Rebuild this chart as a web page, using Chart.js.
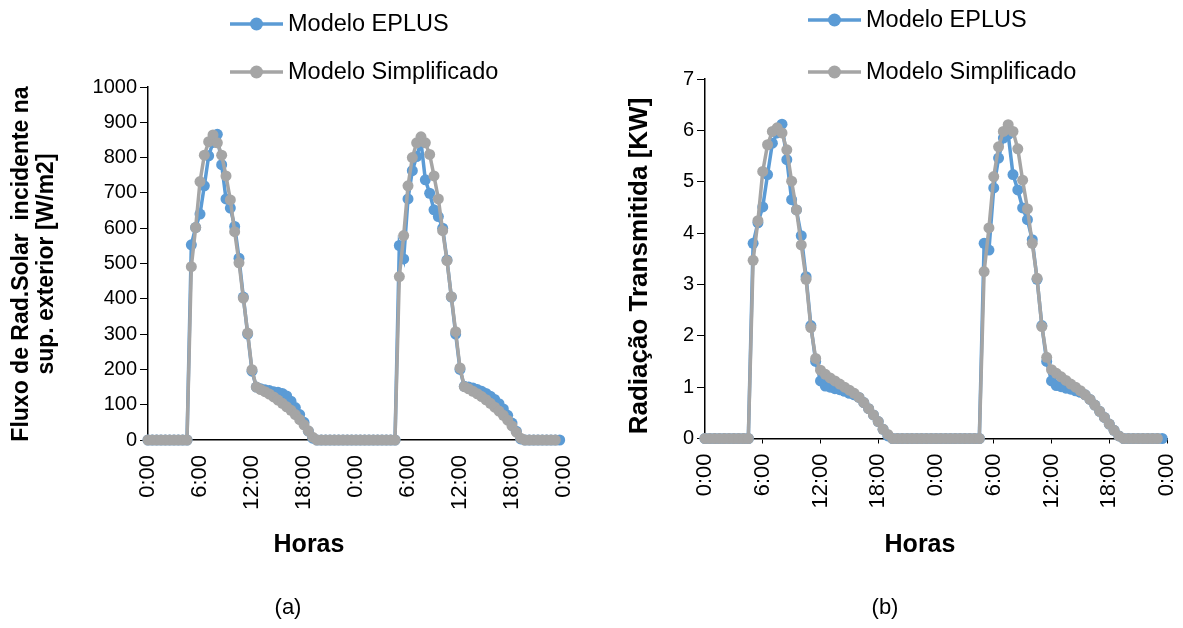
<!DOCTYPE html>
<html>
<head>
<meta charset="utf-8">
<script src="https://cdn.jsdelivr.net/npm/chart.js@4.4.1/dist/chart.umd.min.js"></script>
<style>
  html, body { margin: 0; padding: 0; background: #fff; }
  #wrap { position: relative; width: 1183px; height: 628px; overflow: hidden; }
  .pane { position: absolute; top: 0; height: 628px; }
  #paneA { left: 0; width: 591px; }
  #paneB { left: 591px; width: 592px; }
</style>
</head>
<body>
<div id="wrap">
  <div class="pane" id="paneA"><canvas id="chartA" width="591" height="628"></canvas></div>
  <div class="pane" id="paneB"><canvas id="chartB" width="592" height="628"></canvas></div>
</div>
<script>
// Half-hourly time stamps over two days (hours)
const hours = [
  0,0.5,1,1.5,2,2.5,3,3.5,4,4.5,5,5.5,6,6.5,7,7.5,8,8.5,9,9.5,10,10.5,11,11.5,
  12,12.5,13,13.5,14,14.5,15,15.5,16,16.5,17,17.5,18,18.5,19,19.5,20,20.5,21,21.5,22,22.5,23,23.5,
  24,24.5,25,25.5,26,26.5,27,27.5,28,28.5,29,29.5,30,30.5,31,31.5,32,32.5,33,33.5,34,34.5,35,35.5,
  36,36.5,37,37.5,38,38.5,39,39.5,40,40.5,41,41.5,42,42.5,43,43.5,44,44.5,45,45.5,46,46.5,47,47.5
];
const hourTicks = ['0:00','6:00','12:00','18:00','0:00','6:00','12:00','18:00','0:00'];
const seriesNames = ['Modelo EPLUS', 'Modelo Simplificado'];

// (a) Incident solar flux on the exterior surface [W/m2]
const fluxEplus = [
  0,0,0,0,0,0,0,0,0,0,
  553,602,640,720,805,843,866,780,683,657,605,515,405,300,195,150,145,142,140,137,135,132,125,110,92,72,50,25,5,0,
  0,0,0,0,0,0,0,0,0,0,0,0,0,0,0,0,0,0,
  551,513,683,763,803,845,737,699,652,633,600,510,405,300,200,152,150,147,143,138,132,124,115,103,88,70,48,25,3,0,
  0,0,0,0,0,0,0,0
];
const fluxSimpl = [
  0,0,0,0,0,0,0,0,0,0,
  491,602,732,807,845,864,842,807,748,680,590,502,402,303,199,150,143,137,130,122,113,104,94,84,72,58,43,26,8,0,
  0,0,0,0,0,0,0,0,0,0,0,0,0,0,0,0,0,0,
  463,579,720,800,842,859,842,809,748,683,593,508,406,307,204,151,145,138,131,123,114,104,93,82,70,56,40,22,5,0,
  0,0,0,0,0,0,0
];

// (b) Transmitted radiation [KW]
const transEplus = [
  0,0,0,0,0,0,0,0,0,0,
  3.80,4.20,4.51,5.14,5.75,5.95,6.12,5.43,4.65,4.45,3.95,3.15,2.20,1.50,1.12,1.02,1.00,0.97,0.95,0.92,0.88,0.85,0.80,0.70,0.58,0.46,0.33,0.18,0.05,0,
  0,0,0,0,0,0,0,0,0,0,0,0,0,0,0,0,0,0,
  3.80,3.67,4.88,5.46,5.85,5.92,5.14,4.84,4.49,4.26,3.87,3.10,2.20,1.50,1.12,1.03,1.01,0.98,0.96,0.93,0.90,0.85,0.76,0.65,0.53,0.41,0.28,0.16,0.05,0,
  0,0,0,0,0,0,0,0
];
const transSimpl = [
  0,0,0,0,0,0,0,0,0,0,
  3.47,4.24,5.20,5.72,5.98,6.05,5.95,5.62,5.01,4.45,3.77,3.10,2.16,1.56,1.33,1.25,1.18,1.12,1.06,1.00,0.94,0.88,0.80,0.70,0.58,0.46,0.33,0.18,0.08,0,
  0,0,0,0,0,0,0,0,0,0,0,0,0,0,0,0,0,0,
  3.25,4.10,5.10,5.68,5.98,6.11,5.98,5.64,5.03,4.47,3.80,3.12,2.18,1.58,1.34,1.27,1.20,1.13,1.06,1.00,0.93,0.85,0.76,0.65,0.53,0.41,0.28,0.16,0.05,0,
  0,0,0,0,0,0,0
];

const BLUE = '#5B9BD5';
const GREY = '#A5A5A5';
const FONT = "'Liberation Sans', Arial, Helvetica, sans-serif";

Chart.defaults.color = '#000';
Chart.defaults.font.family = FONT;

function pairs(xs, ys) {
  return ys.map((y, i) => ({ x: xs[i], y: y }));
}

// Draws the legend, axis titles and panel caption on the canvas
const panelText = {
  id: 'panelText',
  afterDraw(chart, args, o) {
    const ctx = chart.ctx;
    ctx.save();
    // legend
    chart.data.datasets.forEach((ds, i) => {
      const y = o.legendY[i];
      const x0 = o.legendX;
      ctx.strokeStyle = ds.borderColor;
      ctx.lineWidth = 3.5;
      ctx.beginPath();
      ctx.moveTo(x0, y);
      ctx.lineTo(x0 + 53, y);
      ctx.stroke();
      ctx.fillStyle = ds.borderColor;
      ctx.beginPath();
      ctx.arc(x0 + 26.5, y, 6.5, 0, Math.PI * 2);
      ctx.fill();
      ctx.fillStyle = '#000';
      ctx.font = '23.5px ' + FONT;
      ctx.textAlign = 'left';
      ctx.textBaseline = 'middle';
      ctx.fillText(ds.label, x0 + 58, y + 1);
    });
    // y axis title (rotated)
    ctx.fillStyle = '#000';
    ctx.font = 'bold ' + o.yTitleSize + 'px ' + FONT;
    ctx.textAlign = 'center';
    ctx.textBaseline = 'middle';
    o.yTitle.forEach((line, k) => {
      ctx.save();
      ctx.translate(o.yTitleX[k], o.yTitleY);
      ctx.rotate(-Math.PI / 2);
      ctx.fillText(line, 0, 0);
      ctx.restore();
    });
    // x axis title
    ctx.font = 'bold 25px ' + FONT;
    ctx.fillText(o.xTitle, o.xTitleX, o.xTitleY);
    // caption
    ctx.font = '22px ' + FONT;
    ctx.fillText(o.caption, o.captionX, o.captionY);
    ctx.restore();
  }
};

function makeChart(id, eplus, simpl, yMax, yStep, geo, text) {
  return new Chart(document.getElementById(id), {
    type: 'line',
    data: {
      datasets: [
        {
          label: seriesNames[0], data: pairs(hours, eplus),
          borderColor: BLUE, backgroundColor: BLUE,
          borderWidth: 3.5, pointRadius: 5.5, pointHoverRadius: 5.5,
          pointBorderWidth: 0, tension: 0, clip: false, order: 2
        },
        {
          label: seriesNames[1], data: pairs(hours, simpl),
          borderColor: GREY, backgroundColor: GREY,
          borderWidth: 3.5, pointRadius: 5.5, pointHoverRadius: 5.5,
          pointBorderWidth: 0, tension: 0, clip: false, order: 1
        }
      ]
    },
    options: {
      responsive: false,
      animation: false,
      events: [],
      layout: { padding: { left: 0, right: geo.padRight, top: geo.padTop, bottom: geo.padBottom } },
      plugins: {
        legend: { display: false },
        tooltip: { enabled: false },
        panelText: text
      },
      scales: {
        x: {
          type: 'linear', min: 0, max: 48,
          afterFit(scale) {
            scale.height = 80;
            scale.paddingLeft = 0;
            scale.paddingRight = 0;
          },
          border: { color: '#000', width: 1.5 },
          grid: { drawOnChartArea: false, drawTicks: true, tickLength: geo.xTickLen, color: geo.xTickColor },
          ticks: {
            stepSize: 6, autoSkip: false, minRotation: 90, maxRotation: 90,
            padding: geo.xTickPad, color: '#000',
            font: { size: 22, family: FONT },
            callback: (v, i) => hourTicks[i]
          }
        },
        y: {
          min: 0, max: yMax,
          afterFit(scale) {
            scale.width = geo.yWidth;
            scale.paddingTop = 0;
            scale.paddingBottom = 0;
          },
          border: { color: '#000', width: 1.5 },
          grid: { drawOnChartArea: false, drawTicks: true, tickLength: 8, color: '#000' },
          ticks: {
            stepSize: yStep, padding: 3, color: '#000',
            font: { size: 20, family: FONT },
            callback: (v) => String(v)
          }
        }
      }
    },
    plugins: [panelText]
  });
}

makeChart('chartA', fluxEplus, fluxSimpl, 1000, 100,
  { yWidth: 148, padRight: 27, padTop: 87, padBottom: 108, xTickLen: 5, xTickColor: 'rgba(0,0,0,0)', xTickPad: 10 },
  {
    legendX: 230, legendY: [24, 72],
    yTitle: ['Fluxo de Rad.Solar  incidente na', 'sup. exterior [W/m2]'],
    yTitleSize: 23, yTitleX: [22, 47], yTitleY: 264,
    xTitle: 'Horas', xTitleX: 309, xTitleY: 545,
    caption: '(a)', captionX: 288, captionY: 608
  });

makeChart('chartB', transEplus, transSimpl, 7, 1,
  { yWidth: 114, padRight: 16, padTop: 79, padBottom: 109.5, xTickLen: 5, xTickColor: '#000', xTickPad: 10 },
  {
    legendX: 217, legendY: [20, 72],
    yTitle: ['Radiação Transmitida [KW]'],
    yTitleSize: 26, yTitleX: [49], yTitleY: 266,
    xTitle: 'Horas', xTitleX: 329, xTitleY: 545,
    caption: '(b)', captionX: 294, captionY: 608
  });
</script>
</body>
</html>
